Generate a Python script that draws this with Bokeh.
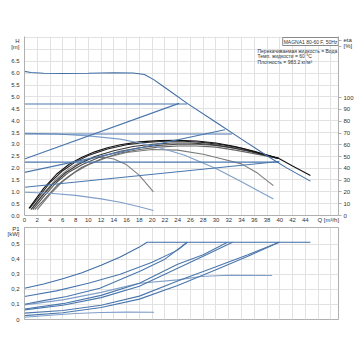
from bokeh.plotting import figure
from bokeh.models import Range1d, LinearAxis, FixedTicker, Label, NumeralTickFormatter
from bokeh.layouts import column
from bokeh.embed import file_html
from bokeh.resources import INLINE

FONT = "Liberation Sans"

# ---------------- data: Q-H curves (m) ----------------
qh_max_q = [0, 1, 3, 6, 10, 14, 17, 18.8, 20.3, 22, 25.5, 30, 34, 38, 41, 44.8]
qh_max_h = [6.08, 6.03, 6.0, 5.99, 6.0, 6.02, 6.01, 5.95, 5.72, 5.4, 4.73, 3.93, 3.22, 2.52, 2.02, 1.45]
qh_pp1_q = [0, 24.2]
qh_pp1_h = [2.38, 4.73]
qh_cp1_q = [0, 25.5]
qh_cp1_h = [4.70, 4.70]
qh_pp2_q = [0, 31.4]
qh_pp2_h = [1.82, 3.62]
qh_cp2_q = [0, 32.5]
qh_cp2_h = [3.44, 3.44]
qh_cc1_q = [0, 5, 10, 15, 20, 25, 30, 34, 39.0]
qh_cc1_h = [3.47, 3.44, 3.36, 3.22, 2.95, 2.55, 1.98, 1.42, 0.70]
qh_cp3_q = [0, 39.9]
qh_cp3_h = [2.25, 2.25]
qh_pp3_q = [0, 39.9]
qh_pp3_h = [1.19, 2.28]
qh_cc2_q = [0, 4, 8, 12, 15, 18, 20.2]
qh_cc2_h = [0.98, 0.94, 0.85, 0.70, 0.56, 0.37, 0.21]

# ---------------- data: efficiency curves (%) ----------------
eta1_q = [0.7, 1.5, 3, 5, 7, 9, 11, 13, 15, 18, 21, 24, 27, 30, 33, 36, 39.8, 42, 44.8]
eta1_v = [6, 12, 23, 35, 43.5, 49.5, 54, 57.5, 60, 62.5, 63.5, 63.8, 63.2, 61.5, 58.5, 54.5, 48.5, 42, 34]
eta2_q = [0.8, 2, 4, 6, 8, 10, 13, 16, 19, 22, 25, 28, 31, 34, 37, 39.8]
eta2_v = [6, 14, 28, 38, 45.5, 51, 56.5, 60, 62, 63, 63, 62, 60, 57, 52.5, 48.5]
eta3_q = [1, 2.5, 4.5, 6.5, 8.5, 11, 14, 17, 20, 23, 26, 29, 32, 35, 37.5, 39.8]
eta3_v = [5, 15, 27, 36.5, 43.5, 50, 55, 58.5, 60.5, 61.5, 61.5, 60.5, 58, 55, 51.5, 48.5]
eta4_q = [1.3, 3, 5, 7, 9, 12, 15, 18, 21, 24, 27, 30, 33, 36, 39.8]
eta4_v = [5, 16, 28, 37, 43, 50, 54.5, 57.5, 59.5, 60.5, 60.5, 59.5, 57, 53.5, 48.5]
eta5_q = [1.6, 3, 5, 7, 9, 12, 15, 18, 21, 24, 27, 30, 33, 36, 39.8]
eta5_v = [5, 13, 25, 33.5, 41, 48, 53, 56, 58, 59, 59, 58, 55.5, 52.5, 48.5]
eta6_q = [2, 4, 6, 8, 10, 13, 16, 20, 24, 28, 31, 34, 36.5, 39.0]
eta6_v = [5, 18, 29, 37, 43, 49.5, 53.5, 56, 55.5, 52, 48, 43.8, 36, 25.4]
eta7_q = [1.2, 3, 5, 7, 9, 11, 12.5, 14, 16, 18, 20.2]
eta7_v = [6, 19, 31, 40, 46, 49, 49.5, 48, 43, 34, 20]

# ---------------- data: power P1 (kW) ----------------
p_max_q = [0, 3, 6, 9, 12, 15, 18, 19.2, 25, 30, 35, 40, 44.8]
p_max_v = [0.207, 0.235, 0.27, 0.31, 0.36, 0.415, 0.48, 0.512, 0.512, 0.512, 0.512, 0.512, 0.512]
p_pp1_q = [0, 5, 10, 15, 20, 24, 25.5]
p_pp1_v = [0.152, 0.19, 0.24, 0.30, 0.38, 0.46, 0.512]
p_cp1_q = [0, 3, 6.6, 11.8, 18, 22, 25.5]
p_cp1_v = [0.101, 0.125, 0.152, 0.207, 0.318, 0.40, 0.512]
p_pp2_q = [0, 6, 12, 18, 24, 28, 31.8]
p_pp2_v = [0.07, 0.105, 0.16, 0.24, 0.366, 0.43, 0.512]
p_cp2_q = [0, 6, 12, 18, 24, 28, 32.6]
p_cp2_v = [0.064, 0.095, 0.145, 0.22, 0.34, 0.42, 0.512]
p_cc1_q = [0, 6, 12, 18, 24, 27.6, 32, 38.8]
p_cc1_v = [0.097, 0.13, 0.18, 0.24, 0.263, 0.285, 0.293, 0.292]
p_cp3_q = [0, 6, 12, 18, 24, 30, 35, 39.9]
p_cp3_v = [0.042, 0.06, 0.095, 0.155, 0.255, 0.35, 0.43, 0.512]
p_pp3_q = [0, 6, 12, 18, 24, 30, 35, 39.9]
p_pp3_v = [0.026, 0.045, 0.08, 0.135, 0.225, 0.33, 0.42, 0.512]
p_cc2_q = [0, 4, 8, 12, 16, 20.3]
p_cc2_v = [0.015, 0.028, 0.04, 0.046, 0.049, 0.048]

# ---------------- ticks and axis texts ----------------
q_grid = list(range(0, 49, 2))
q_ticks = list(range(0, 45, 2)) + [47.6]
q_tick_labels = {t: str(t) for t in range(0, 45, 2)}
q_tick_labels[47.6] = "Q [m³/h]"
h_grid = [i * 0.5 for i in range(16)]
h_ticks = [i * 0.5 for i in range(14)] + [7.1, 7.38]
h_tick_labels = {7.1: "[m]", 7.38: "H"}
eta_ticks = list(range(0, 101, 10)) + [143.5, 148.6]
eta_tick_labels = {143.5: "[%]", 148.6: "eta"}
p_grid = [0, 0.1, 0.2, 0.3, 0.4, 0.5]
p_ticks = [0, 0.1, 0.2, 0.3, 0.4, 0.5, 0.57, 0.606]
p_tick_labels = {0: "0", 0.1: "0,1", 0.2: "0,2", 0.3: "0,3", 0.4: "0,4", 0.5: "0,5",
                 0.57: "[kW]", 0.606: "P1"}

BLUE = "#4a77ad"
LBLUE = "#7f9fc9"
GRID = "#e2e2e2"
AX = "#b0b0b0"
TXT = "#333333"
FS = "6px"

H_MAX = 7.55
ETA_MAX = H_MAX * 23.7 / 1.178


def style_axis(ax, standoff, tick_out=0):
    ax.axis_line_color = AX
    ax.major_tick_line_color = AX if tick_out else None
    ax.major_tick_out = tick_out
    ax.major_tick_in = 0
    ax.minor_tick_line_color = None
    ax.minor_tick_out = 0
    ax.minor_tick_in = 0
    ax.major_label_text_font = FONT
    ax.major_label_text_font_size = FS
    ax.major_label_text_color = TXT
    ax.major_label_standoff = standoff


top = figure(frame_width=314, frame_height=179, x_range=Range1d(0, 49.2), y_range=Range1d(0, H_MAX),
             output_backend="svg", toolbar_location=None,
             min_border_left=24, min_border_right=22, min_border_top=36, min_border_bottom=9)
top.extra_y_ranges = {"eta": Range1d(0, ETA_MAX)}
top.outline_line_color = None

style_axis(top.xaxis[0], 1)
style_axis(top.yaxis[0], 5)
top.xaxis[0].ticker = FixedTicker(ticks=q_ticks)
top.xaxis[0].major_label_overrides = q_tick_labels
top.yaxis[0].ticker = FixedTicker(ticks=h_ticks)
top.yaxis[0].formatter = NumeralTickFormatter(format="0.0")
top.yaxis[0].major_label_overrides = h_tick_labels
top.xgrid.ticker = FixedTicker(ticks=q_grid)
top.ygrid.ticker = FixedTicker(ticks=h_grid)
top.xgrid.grid_line_color = GRID
top.ygrid.grid_line_color = GRID

rax = LinearAxis(y_range_name="eta", ticker=FixedTicker(ticks=eta_ticks))
style_axis(rax, 2, tick_out=3)
rax.major_label_overrides = eta_tick_labels
top.add_layout(rax, "right")

# efficiency curves (black/grey)
eta_sets = [(eta7_q, eta7_v, "#808080"), (eta6_q, eta6_v, "#7a7a7a"), (eta5_q, eta5_v, "#666666"),
            (eta4_q, eta4_v, "#505050"), (eta3_q, eta3_v, "#383838"), (eta2_q, eta2_v, "#222222"),
            (eta1_q, eta1_v, "#111111")]
for q, v, c in eta_sets:
    top.line(q, v, y_range_name="eta", line_color=c, line_width=1.1)

qh_sets = [(qh_cc2_q, qh_cc2_h, LBLUE), (qh_cc1_q, qh_cc1_h, LBLUE), (qh_pp3_q, qh_pp3_h, BLUE),
           (qh_cp3_q, qh_cp3_h, BLUE), (qh_pp2_q, qh_pp2_h, BLUE), (qh_cp2_q, qh_cp2_h, BLUE),
           (qh_pp1_q, qh_pp1_h, BLUE), (qh_cp1_q, qh_cp1_h, BLUE), (qh_max_q, qh_max_h, "#3f6da6")]
for q, h, c in qh_sets:
    top.line(q, h, line_color=c, line_width=1.1)


def lab(fig, fl, fb, x, y, text, align="center", size="5px", **kw):
    fig.add_layout(Label(x=x - fl, y=fb - y, x_units="screen", y_units="screen", text=text,
                         text_font=FONT, text_font_size=size, text_color=TXT,
                         text_align=align, text_baseline="middle", **kw))


# legend texts inside the frame (frame left 24, frame bottom 215)
lab(top, 24, 215, 310, 41, "MAGNA1 80-60 F, 50Hz",
    border_line_color="#888888", background_fill_color="white", padding=1)
lab(top, 24, 215, 257, 50, "Перекачиваемая жидкость = Вода", align="left")
lab(top, 24, 215, 257, 55.5, "Темп. жидкости = 60 °C", align="left")
lab(top, 24, 215, 257, 61, "Плотность = 983.2 кг/м³", align="left")

# ---------------- bottom: power ----------------
bot = figure(frame_width=314, frame_height=92, x_range=Range1d(0, 49.2), y_range=Range1d(0, 0.61),
             output_backend="svg", toolbar_location=None,
             min_border_left=24, min_border_right=22, min_border_top=2, min_border_bottom=4)
bot.outline_line_color = AX
bot.xaxis.visible = False
bot.xgrid.ticker = FixedTicker(ticks=q_grid)
bot.ygrid.ticker = FixedTicker(ticks=p_grid)
bot.xgrid.grid_line_color = GRID
bot.ygrid.grid_line_color = GRID
ya = bot.yaxis[0]
style_axis(ya, 5)
ya.ticker = FixedTicker(ticks=p_ticks)
ya.major_label_overrides = p_tick_labels

p_sets = [(p_cc2_q, p_cc2_v, LBLUE), (p_cc1_q, p_cc1_v, LBLUE), (p_pp3_q, p_pp3_v, BLUE),
          (p_cp3_q, p_cp3_v, BLUE), (p_pp2_q, p_pp2_v, BLUE), (p_cp2_q, p_cp2_v, BLUE),
          (p_pp1_q, p_pp1_v, BLUE), (p_cp1_q, p_cp1_v, BLUE), (p_max_q, p_max_v, "#3f6da6")]
for q, v, c in p_sets:
    bot.line(q, v, line_color=c, line_width=1.1)

layout = column(top, bot, spacing=0)
open("out.html", "w").write(file_html(layout, INLINE))
